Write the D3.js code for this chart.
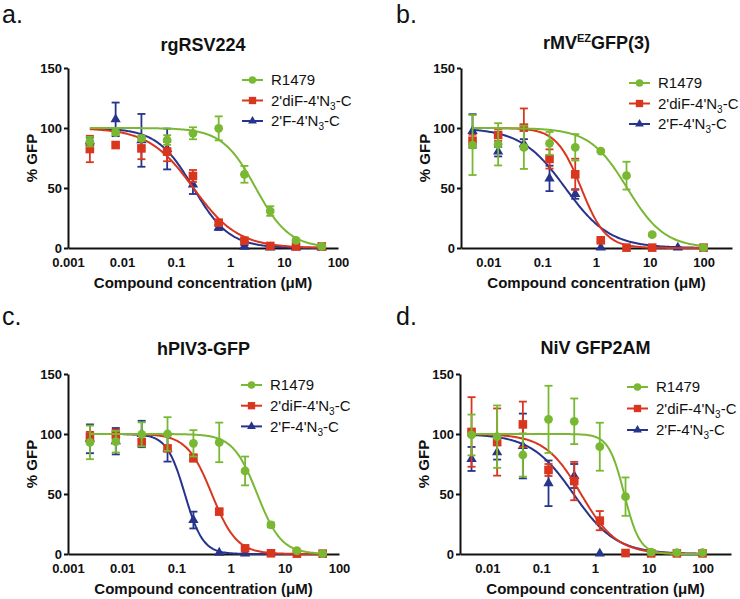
<!DOCTYPE html>
<html><head><meta charset="utf-8">
<script src="https://cdn.jsdelivr.net/npm/d3@7"></script>
<style>body{margin:0;background:#fff}svg{display:block}</style>
</head><body>
<svg id="chart" width="740" height="599"></svg>
<script>
// ---------- data ----------
const seriesNames = ["R1479", "2'diF-4'N3-C", "2'F-4'N3-C"];
const seriesColors = ["#78b832", "#d9361f", "#27348c"];
const yTicks = [0, 50, 100, 150];
const xTicksAC = [0.001, 0.01, 0.1, 1, 10, 100];
const xTicksBD = [0.01, 0.1, 1, 10, 100];
const panelTitles = ["rgRSV224", "rMV|EZ|GFP(3)", "hPIV3-GFP", "NiV GFP2AM"];
const panelLetters = ["a.", "b.", "c.", "d."];

// concentrations (µM)
const concAC = [0.00254, 0.00762, 0.0229, 0.0686, 0.206, 0.617, 1.85, 5.56, 16.7, 50];
const concBD = [0.00508, 0.0152, 0.0457, 0.137, 0.412, 1.23, 3.70, 11.1, 33.3, 100];

// a. rgRSV224
const rsvR1479    = [88.6, 96.1, 91.4, 90.0, 95.6, 99.7, 61.4, 30.8, 6.4, 1.4];
const rsvR1479Err = [4, 2, 2, 4, 5, 10, 7, 4, 1, 1];
const rsvDiF      = [82.5, 85.8, 83.0, 80.3, 60.0, 21.1, 6.1, 1.7, 1.3, 1.3];
const rsvDiFErr   = [11, 0, 9, 8, 5, 2, 1, 0.5, 0.5, 0.5];
const rsvF        = [89, 107.2, 89.7, 82.5, 53.0, 17.0, 1.1, 0.5, 0.3, 0.3];
const rsvFErr     = [3, 14, 22, 17, 8, 2, 1, 0.5, 0.5, 0.5];
const rsvIC50 = [3.0, 0.21, 0.21];
const rsvHill = [1.4, 1.05, 1.3];

// b. rMV-EZ-GFP(3)
const mvR1479    = [85.8, 86.4, 83.9, 87.2, 83.9, 80.8, 60.3, 11.1, null, 0.3];
const mvR1479Err = [25, 17.6, 18, 9.5, 11, 1, 11.6, 1, 0, 0.5];
const mvDiF      = [89.4, 94.2, 100.3, 74.2, 61.4, 6.4, 0.3, 0.3, null, 0.3];
const mvDiFErr   = [5, 5, 16, 8, 13, 1, 0.5, 0.5, 0, 0.5];
const mvF        = [97.5, 80.3, 86.7, 58.0, 45.0, 0.3, null, null, 0.3, null];
const mvFErr     = [14, 4, 4, 10.6, 4, 0.5, 0, 0, 0.5, 0];
const mvIC50 = [3.8, 0.53, 0.27];
const mvHill = [1.25, 1.9, 1.05];

// c. hPIV3-GFP
const pivR1479    = [93.0, 93.6, 99.7, 100.0, 92.2, 93.0, 69.2, 24.2, 2.8, 0.3];
const pivR1479Err = [14, 9, 10, 14, 11, 16.5, 12, 2, 1, 0.5];
const pivDiF      = [97.8, 99.7, 93.0, 88.0, 80.0, 35.3, 4.7, 0.6, 0.3, 0.3];
const pivDiFErr   = [4, 4, 3, 2, 3, 2, 1, 0.5, 0.5, 0.5];
const pivF        = [96, 94, 100, 88, 28.3, 1.1, 0.3, null, null, null];
const pivFErr     = [12, 11, 11, 11, 7, 0.5, 0.5, 0, 0, 0];
const pivIC50 = [3.1, 0.45, 0.143];
const pivHill = [1.95, 1.9, 2.6];

// d. NiV GFP2AM
const nivR1479    = [99.2, 97.8, 82.5, 112.2, 110.6, 89.4, 47.8, 1.5, 1.2, 1.2];
const nivR1479Err = [17, 26, 18, 28, 19, 20, 16, 1, 0.5, 0.5];
const nivDiF      = [101.7, 93.3, 108.0, 70.0, 60.8, 27.8, 0.8, 0.5, 0.5, 0.5];
const nivDiFErr   = [29, 28, 19, 5, 16, 8, 0.5, 0.5, 0.5, 0.5];
const nivF        = [79.2, 84.7, 90.0, 58.9, 65.0, 0.3, null, null, null, null];
const nivFErr     = [10, 6, 27, 19, 10, 0.5, 0, 0, 0, 0];
const nivIC50 = [3.5, 0.55, 0.4];
const nivHill = [3.0, 1.3, 1.1];

// ---------- layout ----------
const FONT = "'Liberation Sans', Arial, Helvetica, sans-serif";
const layouts = [
  {x0: 68,  x1: 338, yTop: 68,  yBot: 248, dom: [0.001, 100],  ticks: xTicksAC, tx: 203,   ty: 51,  lx: 2,   ly: 23,  legX: 242, legY: 80,  legDy: 20.5},
  {x0: 461, x1: 732, yTop: 68,  yBot: 248, dom: [0.0031, 338], ticks: xTicksBD, tx: 596.5, ty: 49,  lx: 396, ly: 23,  legX: 629, legY: 83,  legDy: 20.5},
  {x0: 68,  x1: 339, yTop: 374, yBot: 554, dom: [0.001, 100],  ticks: xTicksAC, tx: 203.5, ty: 355, lx: 2,   ly: 325, legX: 241, legY: 385, legDy: 20.7},
  {x0: 460, x1: 731, yTop: 374, yBot: 554, dom: [0.0031, 338], ticks: xTicksBD, tx: 595.5, ty: 354, lx: 396, ly: 325, legX: 627, legY: 387, legDy: 21.5}
];
const panelData = [
  {conc: concAC, vals: [rsvR1479, rsvDiF, rsvF], errs: [rsvR1479Err, rsvDiFErr, rsvFErr], ic50: rsvIC50, hill: rsvHill},
  {conc: concBD, vals: [mvR1479, mvDiF, mvF],   errs: [mvR1479Err, mvDiFErr, mvFErr],   ic50: mvIC50,  hill: mvHill},
  {conc: concAC, vals: [pivR1479, pivDiF, pivF], errs: [pivR1479Err, pivDiFErr, pivFErr], ic50: pivIC50, hill: pivHill},
  {conc: concBD, vals: [nivR1479, nivDiF, nivF], errs: [nivR1479Err, nivDiFErr, nivFErr], ic50: nivIC50, hill: nivHill}
];

const svg = d3.select("#chart");

function addLabelWithSub(sel, name) {
  // render N3 with subscript 3
  const parts = name.split("N3");
  sel.append("tspan").text(parts[0] + "N");
  sel.append("tspan").attr("font-size", 10).attr("dy", 4).text("3");
  sel.append("tspan").attr("dy", -4).text(parts[1]);
}

function drawMarker(g, type, cx, cy, color, scale) {
  if (type === 0) {
    g.append("circle").attr("cx", cx).attr("cy", cy).attr("r", 4.4 * scale).attr("fill", color);
  } else if (type === 1) {
    const s = 8.6 * scale;
    g.append("rect").attr("x", cx - s / 2).attr("y", cy - s / 2).attr("width", s).attr("height", s).attr("fill", color);
  } else {
    g.append("path").attr("d", d3.symbol(d3.symbolTriangle, 46 * scale * scale)())
      .attr("transform", `translate(${cx},${cy})`).attr("fill", color);
  }
}

layouts.forEach((L, pi) => {
  const D = panelData[pi];
  const g = svg.append("g");
  const x = d3.scaleLog().domain(L.dom).range([L.x0, L.x1]);
  const y = d3.scaleLinear().domain([0, 150]).range([L.yBot, L.yTop]);

  // panel letter
  g.append("text").attr("x", L.lx).attr("y", L.ly).attr("font-family", FONT)
    .attr("font-size", 25).attr("fill", "#111").text(panelLetters[pi]);

  // title
  const t = g.append("text").attr("x", L.tx).attr("y", L.ty).attr("text-anchor", "middle")
    .attr("font-family", FONT).attr("font-size", 18).attr("font-weight", "bold").attr("fill", "#111");
  const tp = panelTitles[pi].split("|");
  if (tp.length === 3) {
    t.append("tspan").text(tp[0]);
    t.append("tspan").attr("font-size", 11).attr("dy", -7).text(tp[1]);
    t.append("tspan").attr("dy", 7).text(tp[2]);
  } else t.text(tp[0]);

  // axes
  const yAxis = d3.axisLeft(y).tickValues(yTicks).tickSize(4).tickSizeOuter(0).tickPadding(2);
  const xAxis = d3.axisBottom(x).tickValues(L.ticks).tickSize(0).tickSizeOuter(0).tickPadding(10)
    .tickFormat(d => String(d));
  const ya = g.append("g").attr("transform", `translate(${L.x0},0)`).call(yAxis);
  const xa = g.append("g").attr("transform", `translate(0,${L.yBot})`).call(xAxis);
  [ya, xa].forEach(a => {
    a.select(".domain").attr("stroke", "#111").attr("stroke-width", 2);
    a.selectAll(".tick line").attr("stroke", "#111").attr("stroke-width", 2);
    a.selectAll(".tick text").attr("font-family", FONT).attr("font-size", 13)
      .attr("font-weight", "bold").attr("fill", "#111");
  });

  // axis labels
  g.append("text").attr("transform", `translate(${L.x0 - 31.5},${(L.yTop + L.yBot) / 2}) rotate(-90)`)
    .attr("text-anchor", "middle").attr("font-family", FONT).attr("font-size", 15)
    .attr("font-weight", "bold").attr("fill", "#111").text("% GFP");
  g.append("text").attr("x", (L.x0 + L.x1) / 2).attr("y", L.yBot + 39.5).attr("text-anchor", "middle")
    .attr("font-family", FONT).attr("font-size", 15).attr("font-weight", "bold").attr("fill", "#111")
    .text("Compound concentration (\u03BCM)");

  // series (draw blue, red, green so green ends on top)
  [2, 1, 0].forEach(si => {
    const color = seriesColors[si];
    const conc = D.conc;
    const ic = D.ic50[si], h = D.hill[si];
    // fitted 4-parameter logistic (top 100, bottom 0)
    const lo = Math.log10(conc[0]), hi = Math.log10(conc[conc.length - 1]);
    const xs = d3.range(0, 201).map(i => Math.pow(10, lo + (hi - lo) * i / 200));
    const line = d3.line().x(c => x(c)).y(c => y(100 / (1 + Math.pow(c / ic, h))));
    g.append("path").attr("d", line(xs)).attr("fill", "none").attr("stroke", color).attr("stroke-width", 2);

    const vals = D.vals[si], errs = D.errs[si];
    conc.forEach((c, i) => {
      const v = vals[i];
      if (v === null) return;
      const e = errs[i];
      const cx = x(c);
      if (e > 0.6) {
        const y1 = y(v + e), y2 = y(v - e);
        g.append("line").attr("x1", cx).attr("x2", cx).attr("y1", y1).attr("y2", y2)
          .attr("stroke", color).attr("stroke-width", 1.8);
        [y1, y2].forEach(yy => g.append("line").attr("x1", cx - 4).attr("x2", cx + 4)
          .attr("y1", yy).attr("y2", yy).attr("stroke", color).attr("stroke-width", 1.8));
      }
      drawMarker(g, si, cx, y(v), color, 1);
    });
  });

  // legend
  seriesNames.forEach((name, si) => {
    const ly = L.legY + si * L.legDy;
    const color = seriesColors[si];
    g.append("line").attr("x1", L.legX).attr("x2", L.legX + 21).attr("y1", ly).attr("y2", ly)
      .attr("stroke", color).attr("stroke-width", 2);
    drawMarker(g, si, L.legX + 10.5, ly, color, 0.85);
    const tx = g.append("text").attr("x", L.legX + 29).attr("y", ly).attr("dy", "0.35em")
      .attr("font-family", FONT).attr("font-size", 15).attr("fill", "#111");
    if (name.includes("N3")) addLabelWithSub(tx, name); else tx.text(name);
  });
});
</script>
</body></html>
